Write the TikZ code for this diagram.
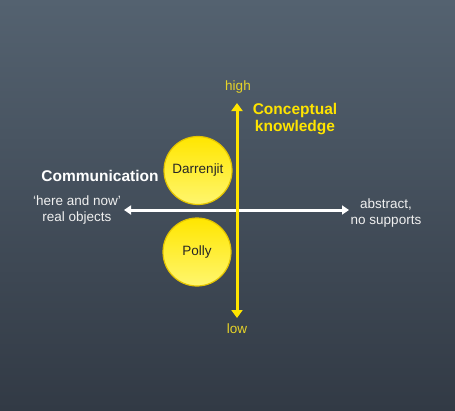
\documentclass[tikz,border=0pt]{standalone}
\usepackage{fontspec}
\setmainfont{Liberation Sans}
\usetikzlibrary{arrows.meta}
\definecolor{bgtop}{RGB}{84,98,112}
\definecolor{bgbot}{RGB}{50,58,69}
\definecolor{ayellow}{RGB}{255,228,0}
\definecolor{lyellow}{RGB}{232,212,40}
\definecolor{ctop}{RGB}{255,230,0}
\definecolor{cbot}{RGB}{255,246,110}
\definecolor{cedge}{RGB}{228,196,0}
\definecolor{txtw}{RGB}{240,240,240}
\tikzset{
  person/.style={circle, minimum size=68pt, inner sep=0pt, draw=cedge, line width=1.2pt,
    top color=ctop, bottom color=cbot, font=\fontsize{13.5}{15}\selectfont, text=black!85},
  axislabel/.style={font=\fontsize{13.5}{16}\selectfont, text=txtw, align=center, inner sep=0pt},
  endlabel/.style={font=\fontsize{13.5}{16}\selectfont, text=lyellow, inner sep=0pt},
  title/.style={font=\bfseries\fontsize{15.5}{17}\selectfont, align=center, inner sep=0pt},
  yarrow/.style={draw=ayellow, line width=3pt, {Triangle[width=11pt,length=8pt]}-{Triangle[width=11pt,length=8pt]}},
  warrow/.style={draw=white, line width=3pt, {Triangle[width=9pt,length=7pt]}-{Triangle[width=9pt,length=7pt]}}
}
\begin{document}
\begin{tikzpicture}[x=1pt,y=-1pt]
\shade[top color=bgtop, bottom color=bgbot] (0,0) rectangle (455,410);
\useasboundingbox (0,0) rectangle (455,410);
% circles
\node[person] (darr) at (198,170.5) {Darrenjit};
\node[person] (polly) at (197,252) {Polly};
% arrows
\coordinate (vtop) at (237,103);
\coordinate (vbot) at (237,318);
\coordinate (hleft) at (124,210);
\coordinate (hright) at (349,210);
\draw[warrow] (hleft) -- (hright);
\draw[yarrow] (vtop) -- (vbot);
% labels
\node[endlabel] (high) at (238,87) {high};
\node[endlabel] (low) at (237,329) {low};
\node[title, text=ayellow] (concept) at (295,119) {Conceptual\\knowledge};
\node[title, text=white] (comm) at (100,176) {Communication};
\node[axislabel] (here) at (77,210) {‘here and now’\\real objects};
\node[axislabel] (abs) at (386,213) {abstract,\\no supports};
\end{tikzpicture}
\end{document}
